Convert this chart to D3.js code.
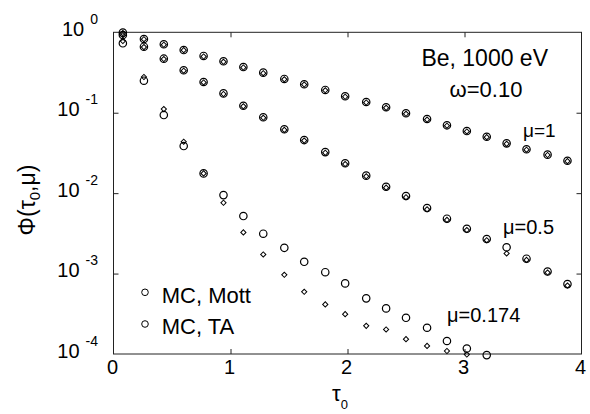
<!DOCTYPE html>
<html>
<head>
<meta charset="utf-8">
<script src="https://cdn.jsdelivr.net/npm/d3@7"></script>
<style>
body { margin: 0; background: #fff; }
text { font-family: "Liberation Sans", Arial, sans-serif; fill: #000; }
</style>
</head>
<body>
<div class="board"></div>
<script>
var width = 590,
    height = 414

var margin = { top: 32.3, right: 8.5, bottom: 60, left: 113.5 }

// optical depth of each slab
let tau = [0.08, 0.26, 0.43, 0.60, 0.77, 0.94, 1.11, 1.28, 1.46, 1.63, 1.81, 1.98,
    2.16, 2.33, 2.50, 2.68, 2.85, 3.02, 3.19, 3.36, 3.53, 3.71, 3.88]

// mu = 1
let mottMu1 = [0.99, 0.825, 0.709, 0.602, 0.508, 0.436, 0.370, 0.315, 0.263, 0.226, 0.192, 0.160,
    0.136, 0.117, 0.0983, 0.0835, 0.0697, 0.0592, 0.0503, 0.0416, 0.0351, 0.0301, 0.0253]
let taMu1 = [0.98, 0.82, 0.70, 0.60, 0.50, 0.43, 0.365, 0.31, 0.26, 0.224, 0.19, 0.158,
    0.134, 0.115, 0.097, 0.082, 0.069, 0.0585, 0.0497, 0.041, 0.0347, 0.0298, 0.025]

// mu = 0.5
let mottMu05 = [0.926, 0.662, 0.470, 0.337, 0.241, 0.174, 0.122, 0.0877, 0.0622, 0.0457, 0.0324, 0.0235,
    0.0165, 0.0120, 0.00921, 0.00653, 0.00481, 0.00361, 0.00269, 0.00212, 0.00153, 0.00106, 0.00074]
let taMu05 = [0.92, 0.655, 0.465, 0.333, 0.238, 0.171, 0.120, 0.0865, 0.0612, 0.045, 0.0318, 0.023,
    0.0162, 0.0117, 0.0089, 0.0063, 0.00465, 0.00348, 0.0026, 0.00178, 0.00148, 0.00103, 0.00071]

// mu = 0.174
let mottMu0174 = [0.730, 0.250, 0.0936, 0.0385, 0.0176, 0.00946, 0.00519, 0.00313, 0.00209, 0.00140,
    0.00104, 0.000755, 0.000492, 0.000369, 0.000282, 0.000212, 0.000145, 0.000117, 0.0000969]
let taMu0174 = [0.779, 0.278, 0.111, 0.0436, 0.0176, 0.0076, 0.00325, 0.00173, 0.000966, 0.000594,
    0.000414, 0.000313, 0.000224, 0.000202, 0.000153, 0.000126, 0.000109, 0.0000985]

let xTicks = [0, 1, 2, 3, 4]
let yTicks = [1, 0.1, 0.01, 0.001, 0.0001]
let yExponents = ["0", "-1", "-2", "-3", "-4"]

let legendLabels = ["MC, Mott", "MC, TA"]

var svg = d3.select(".board")
    .append("svg")
    .attr("width", width)
    .attr("height", height)

let x = d3.scaleLinear()
    .domain([0, 4])
    .range([margin.left, width - margin.right])

let y = d3.scaleLog()
    .domain([1e-4, 1])
    .range([354, margin.top])

const FRAME = "#222"

// frame
svg.append("rect")
    .attr("x", x(0))
    .attr("y", y(1))
    .attr("width", x(4) - x(0))
    .attr("height", y(1e-4) - y(1))
    .attr("fill", "none")
    .attr("stroke", FRAME)
    .attr("stroke-width", 1)

function innerTicks(axis, transform) {
    let g = svg.append("g")
        .attr("transform", transform)
        .call(axis)
    g.select(".domain").remove()
    g.selectAll("line").attr("stroke", FRAME)
    g.selectAll("text").remove()
}

innerTicks(d3.axisBottom(x).tickValues([1, 2, 3]).tickSize(-5), `translate(0, ${y(1e-4)})`)
innerTicks(d3.axisTop(x).tickValues([1, 2, 3]).tickSize(-5), `translate(0, ${y(1)})`)
innerTicks(d3.axisLeft(y).tickValues(yTicks.slice(1, 4)).tickSize(-5), `translate(${x(0)}, 0)`)
innerTicks(d3.axisRight(y).tickValues(yTicks.slice(1, 4)).tickSize(-5), `translate(${x(4)}, 0)`)

// x tick labels
svg.append("g")
    .selectAll("text")
    .data(xTicks)
    .enter()
    .append("text")
    .attr("x", d => x(d) - 1)
    .attr("y", 373.5)
    .attr("text-anchor", "middle")
    .attr("font-size", 20)
    .text(d => d)

// y tick labels: 10 with raised exponent
let yLabels = svg.append("g")
    .selectAll("text")
    .data(yTicks)
    .enter()
    .append("text")
    .attr("x", 98)
    .attr("y", d => y(d) + 3.5)
    .attr("text-anchor", "end")
    .attr("font-size", 20)

yLabels.append("tspan").text("10")
yLabels.append("tspan")
    .attr("dx", 6)
    .attr("dy", -12)
    .attr("font-size", 14)
    .text((d, i) => yExponents[i])

// axis titles
let xTitle = svg.append("text")
    .attr("x", 332)
    .attr("y", 401)
    .attr("font-size", 22)
xTitle.append("tspan").text("τ")
xTitle.append("tspan").attr("dy", 8).attr("font-size", 13).text("0")

let yTitle = svg.append("text")
    .attr("transform", "translate(35, 200) rotate(-90)")
    .attr("text-anchor", "middle")
    .attr("font-size", 23)
yTitle.append("tspan").text("Φ(τ")
yTitle.append("tspan").attr("dy", 5).attr("font-size", 15).text("0")
yTitle.append("tspan").attr("dy", -5).text(",μ)")

// data
let diamond = d3.symbol(d3.symbolSquare, 13.5)

function plotMott(values) {
    svg.append("g")
        .selectAll("circle")
        .data(values)
        .enter()
        .append("circle")
        .attr("cx", (d, i) => x(tau[i]))
        .attr("cy", d => y(d))
        .attr("r", 3.7)
        .attr("fill", "none")
        .attr("stroke", "#000")
        .attr("stroke-width", 1.2)
}

function plotTA(values) {
    svg.append("g")
        .selectAll("path")
        .data(values)
        .enter()
        .append("path")
        .attr("d", diamond)
        .attr("transform", (d, i) => `translate(${x(tau[i])}, ${y(d)}) rotate(45)`)
        .attr("fill", "none")
        .attr("stroke", "#000")
        .attr("stroke-width", 1)
}

plotMott(mottMu1)
plotTA(taMu1)
plotMott(mottMu05)
plotTA(taMu05)
plotMott(mottMu0174)
plotTA(taMu0174)

// annotations
svg.append("text")
    .attr("x", 548)
    .attr("y", 65.7)
    .attr("text-anchor", "end")
    .attr("font-size", 23)
    .text("Be, 1000 eV")

svg.append("text")
    .attr("x", 486)
    .attr("y", 97)
    .attr("text-anchor", "middle")
    .attr("font-size", 22)
    .text("ω=0.10")

svg.append("text").attr("x", 523).attr("y", 136.5).attr("font-size", 19).text("μ=1")
svg.append("text").attr("x", 503).attr("y", 234).attr("font-size", 20).text("μ=0.5")
svg.append("text").attr("x", 447).attr("y", 321.7).attr("font-size", 20).text("μ=0.174")

// legend
let legend = svg.append("g")
    .selectAll("g")
    .data(legendLabels)
    .enter()
    .append("g")
    .attr("transform", (d, i) => `translate(145, ${292.3 + i * 31.7})`)

legend.append("circle")
    .attr("r", 3.3)
    .attr("fill", "none")
    .attr("stroke", "#000")
    .attr("stroke-width", 1)

legend.append("text")
    .attr("x", 16.7)
    .attr("y", 10.4)
    .attr("font-size", 22)
    .text(d => d)
</script>
</body>
</html>
